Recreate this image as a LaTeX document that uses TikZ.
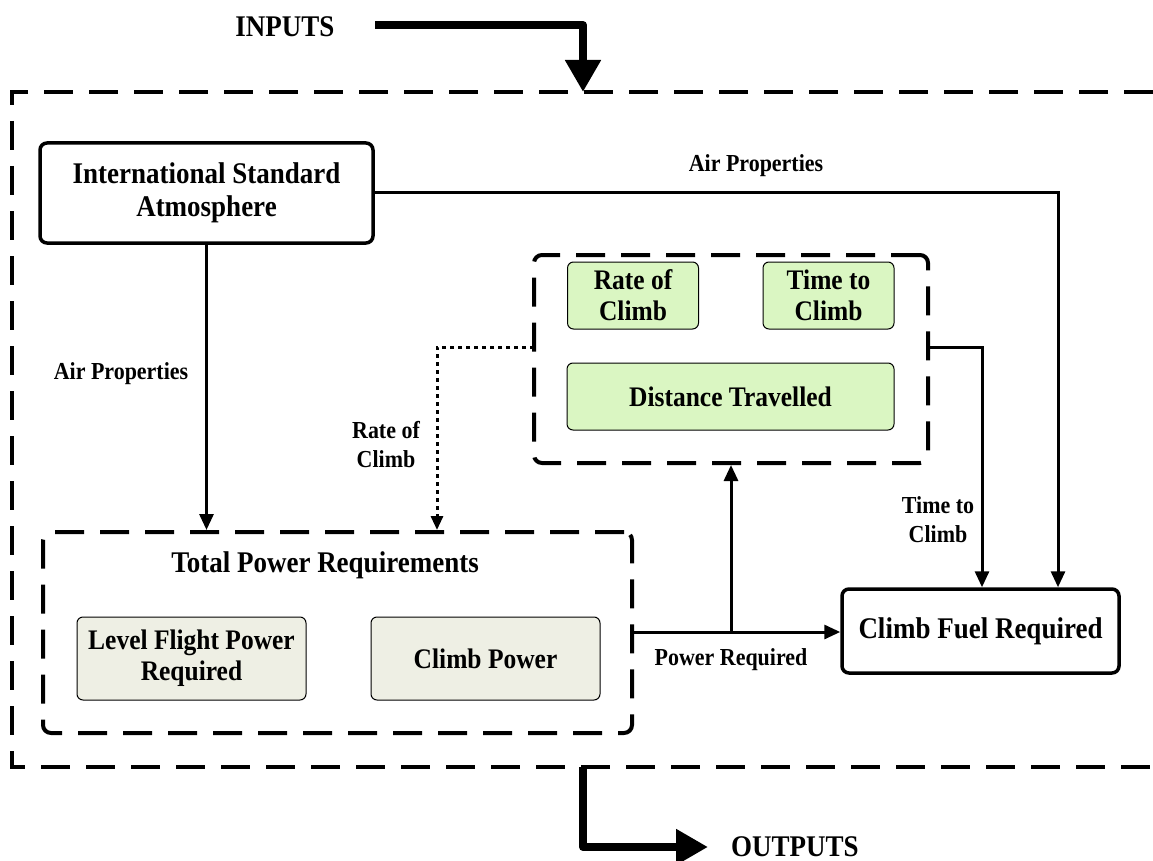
\documentclass[tikz,border=0pt]{standalone}
\usepackage{fontspec}
\setmainfont{Liberation Serif}[FakeStretch=0.9]
\usetikzlibrary{arrows.meta,calc}
\definecolor{lgreen}{RGB}{218,246,194}
\definecolor{lgray}{RGB}{238,239,228}
\tikzset{
  bigfont/.style={font=\bfseries\fontsize{30}{33}\selectfont},
  midfont/.style={font=\bfseries\fontsize{28.3}{31}\selectfont},
  lblfont/.style={font=\bfseries\fontsize{24.4}{29}\selectfont},
  mainbox/.style={draw, line width=3.5pt, rounded corners=7pt, align=center, bigfont, inner sep=0pt},
  groupbox/.style={draw, line width=4pt, rounded corners=8pt, dash pattern=on 29pt off 16pt, inner sep=0pt},
  greenbox/.style={draw, line width=1pt, rounded corners=6pt, fill=lgreen, align=center, midfont, inner sep=0pt},
  graybox/.style={draw, line width=1pt, rounded corners=6pt, fill=lgray, align=center, midfont, inner sep=0pt},
  conn/.style={line width=3pt, -{Triangle[length=16pt,width=14pt]}},
  dotconn/.style={line width=3pt, dash pattern=on 4pt off 4pt, -{Triangle[length=14pt,width=12pt]}},
  bigarrow/.style={line width=8pt, line join=round, -{Triangle[length=32pt,width=34pt]}},
  outerline/.style={line width=4pt, dash pattern=on 29pt off 16pt},
  lbl/.style={align=center, lblfont, inner sep=0pt},
}
\begin{document}
\begin{tikzpicture}[x=1pt,y=-1pt]
\useasboundingbox (0,0) rectangle (1153,861);
% outer dashed frame (open on the right)
\draw[outerline] (1153,92) -- (12,92) -- (12,767) -- (1153,767);

% INPUTS / OUTPUTS
\node[bigfont, inner sep=0pt] (inputs) at (285,27) {INPUTS};
\coordinate (inStart) at (375,25);
\coordinate (inEnd) at (583,92);
\draw[bigarrow] (inStart) -| (inEnd);
\node[bigfont, inner sep=0pt, anchor=west] (outputs) at (731,847) {OUTPUTS};
\coordinate (outStart) at (583,767);
\coordinate (outEnd) at (708,847);
\draw[bigarrow] (outStart) |- (outEnd);

% main nodes
\node[mainbox, minimum width=333pt, minimum height=100pt] (isa) at (206.5,193) {International Standard\\Atmosphere};
\node[mainbox, minimum width=277pt, minimum height=84pt] (fuel) at (980.5,631) {Climb Fuel Required};

% climb performance group
\node[groupbox, minimum width=394pt, minimum height=208pt] (mid) at (731,359) {};
\node[greenbox, minimum width=131pt, minimum height=67pt] (roc) at (633,295.5) {Rate of\\Climb};
\node[greenbox, minimum width=131pt, minimum height=67pt] (ttc) at (828.5,295.5) {Time to\\Climb};
\node[greenbox, minimum width=327pt, minimum height=67pt] (dist) at (730.5,396.5) {Distance Travelled};

% total power group
\node[groupbox, minimum width=589pt, minimum height=201pt] (tpr) at (337.5,632.5) {};
\node[bigfont, inner sep=0pt] (tprtitle) at (325,565) {Total Power Requirements};
\node[graybox, minimum width=229pt, minimum height=83pt] (lfp) at (191.5,658.5) {Level Flight Power\\Required};
\node[graybox, minimum width=229pt, minimum height=83pt] (cp) at (485.5,658.5) {Climb Power};

% connectors
\coordinate (airx) at (1058,0);
\draw[conn] (isa.east) -| (airx |- fuel.north);
\node[lbl] (lblair1) at (756,166) {Air Properties};

\draw[conn] (isa.south) -- (isa.south |- tpr.north);
\node[lbl] (lblair2) at (121,374) {Air Properties};

\coordinate (rocOut) at (534,347);
\coordinate (rocx) at (437,0);
\draw[dotconn] (rocOut) -| (rocx |- tpr.north);
\node[lbl] (lblroc) at (386,445) {Rate of\\Climb};

\coordinate (ttcOut) at (928,347);
\coordinate (ttcx) at (982,0);
\draw[conn] (ttcOut) -| (ttcx |- fuel.north);
\node[lbl] (lblttc) at (938,520) {Time to\\Climb};

\coordinate (pwrOut) at (632,632);
\coordinate (br) at (731,632);
\draw[conn] (pwrOut) -- (pwrOut -| fuel.west);
\draw[conn] (br) -- (mid.south);
\node[lbl] (lblpwr) at (731,660) {Power Required};
\end{tikzpicture}
\end{document}
